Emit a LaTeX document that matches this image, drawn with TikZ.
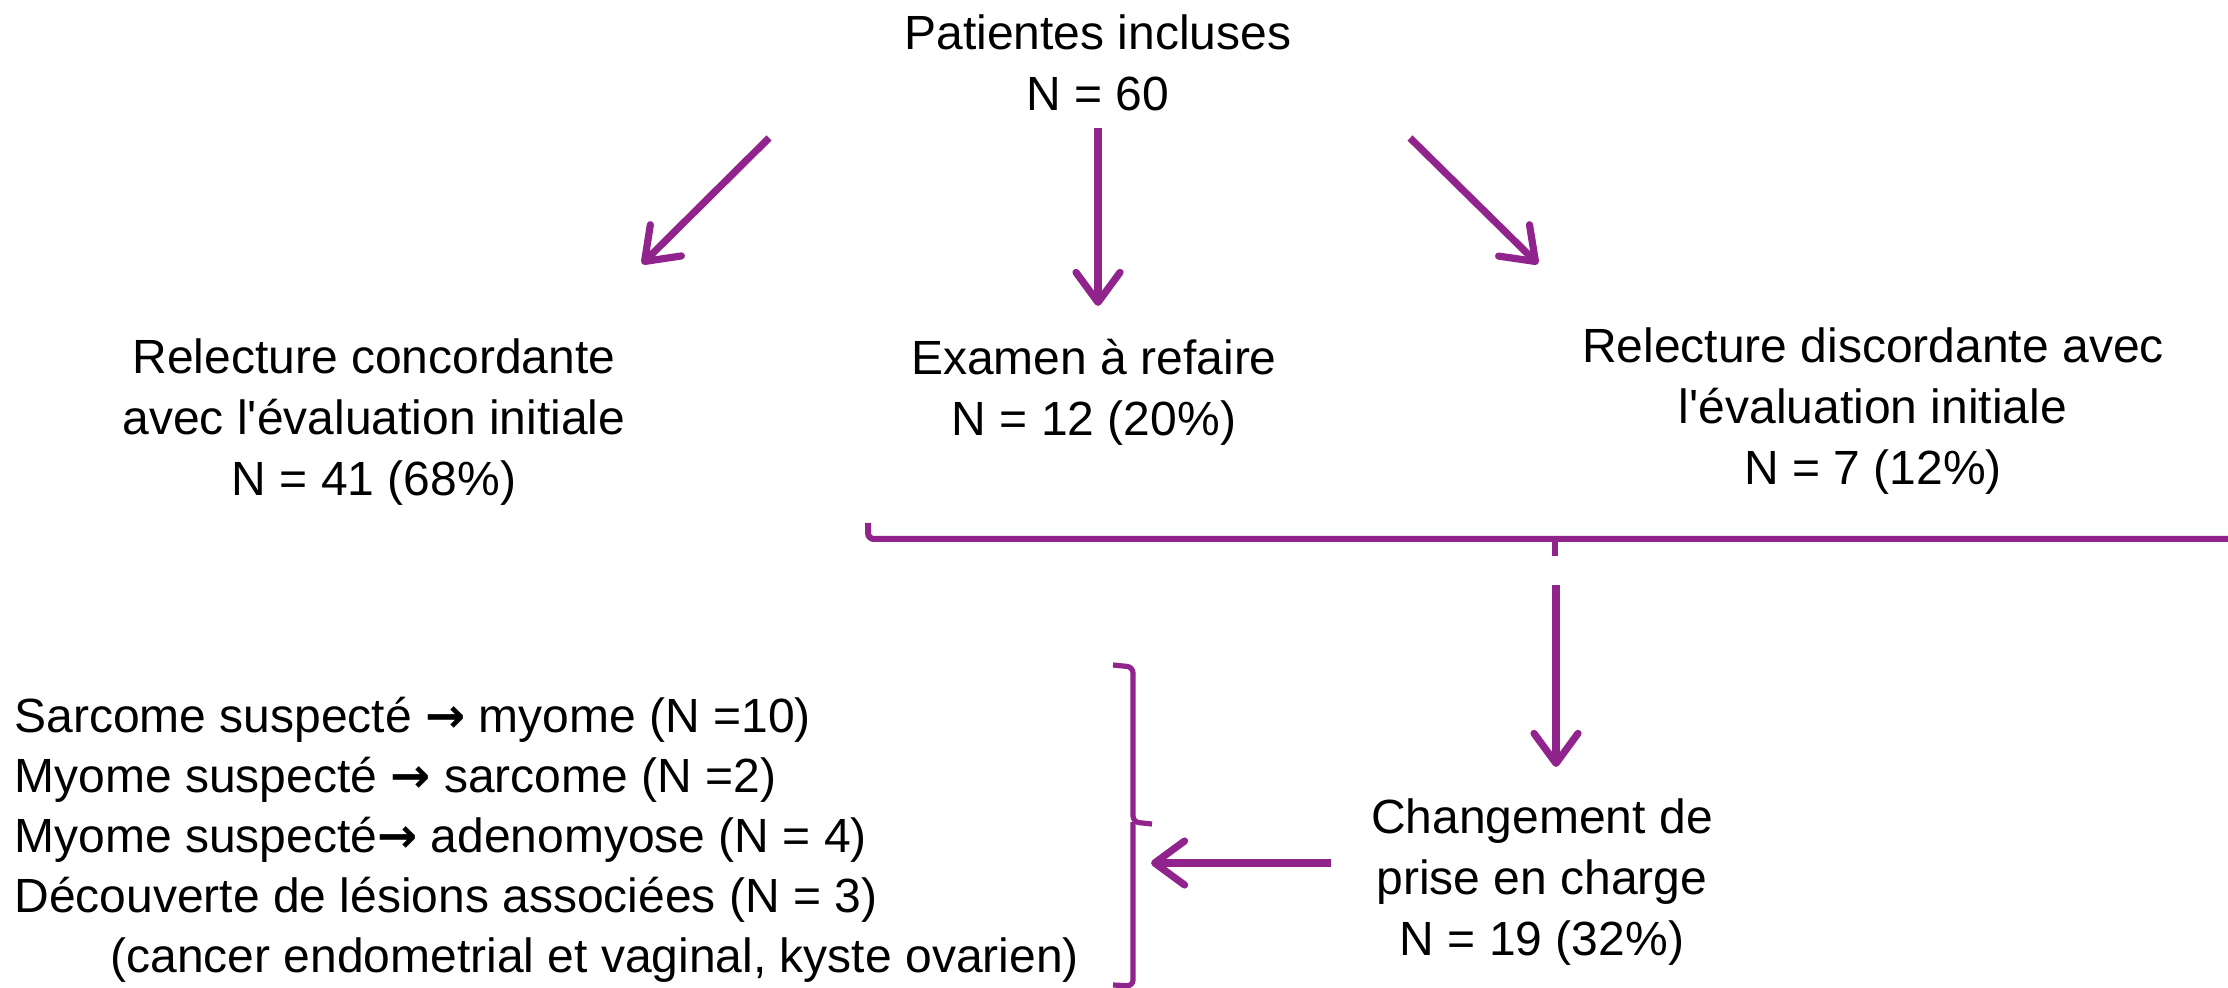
\documentclass[tikz,border=0pt]{standalone}
\usepackage{fontspec}
\setmainfont{Liberation Sans}
\newfontfamily\symfont{DejaVu Sans}
\usetikzlibrary{arrows.meta}
\definecolor{violet}{RGB}{145,35,140}
\begin{document}
\begin{tikzpicture}[x=0.5pt,y=-0.5pt,
  txt/.style={align=center,inner sep=0pt,font=\fontsize{24}{30.5}\selectfont},
  arr/.style={draw=violet,line width=3.6pt,-{Straight Barb[length=15pt,width=22pt,line width=3.6pt,line cap=round,round]}},
  brace/.style={draw=violet,line width=2.6pt,rounded corners=3pt}]
\useasboundingbox (0,0) rectangle (2228,988);
\node[txt] (top) at (1098,63) {Patientes incluses\\N = 60};
\node[txt] (left) at (374,422) {Relecture concordante\\avec l\textquotesingle évaluation initiale\\N = 41 (68\%)};
\node[txt] (mid) at (1094,392) {Examen à refaire\\N = 12 (20\%)};
\node[txt] (right) at (1873,411) {Relecture discordante avec\\l\textquotesingle évaluation initiale\\N = 7 (12\%)};
\node[txt] (chg) at (1542,882) {Changement de\\prise en charge\\N = 19 (32\%)};
\node[txt,align=left,anchor=west,font=\fontsize{24}{30}\selectfont] (list) at (14,840) {Sarcome suspecté {\symfont\textbf{→}} myome (N =10)\\Myome suspecté {\symfont\textbf{→}} sarcome (N =2)\\Myome suspecté{\symfont\textbf{→}} adenomyose (N = 4)\\Découverte de lésions associées (N = 3)\\\hspace*{48pt}(cancer endometrial et vaginal, kyste ovarien)};
% arrow endpoints
\coordinate (a1s) at (769,138); \coordinate (a1e) at (642,264);
\coordinate (a2s) at (1098,128); \coordinate (a2e) at (1098,306);
\coordinate (a3s) at (1410,138); \coordinate (a3e) at (1538,264);
\coordinate (a4s) at (1556,585); \coordinate (a4e) at (1556,767);
\coordinate (a5s) at (1331,863); \coordinate (a5e) at (1151,863);
\draw[arr] (a1s) -- (a1e);
\draw[arr] (a2s) -- (a2e);
\draw[arr] (a3s) -- (a3e);
\draw[arr] (a4s) -- (a4e);
\draw[arr] (a5s) -- (a5e);
% horizontal brace
\coordinate (hb1) at (868,523);
\coordinate (hbm) at (1555,556);
\coordinate (hb2) at (2228,539);
\draw[brace,line width=3pt] (hb1) -- (868,539) -- (hb2);
\draw[draw=violet,line width=2.6pt] (1555,539) -- (hbm);
% vertical brace
\coordinate (vbt) at (1113,665);
\coordinate (vbm) at (1152,824);
\coordinate (vbb) at (1113,985);
\draw[brace] (vbt) -- (1133,667) -- (1133,822) -- (vbm);
\draw[brace] (1133,822) -- (1133,986) -- (vbb);
\end{tikzpicture}
\end{document}
